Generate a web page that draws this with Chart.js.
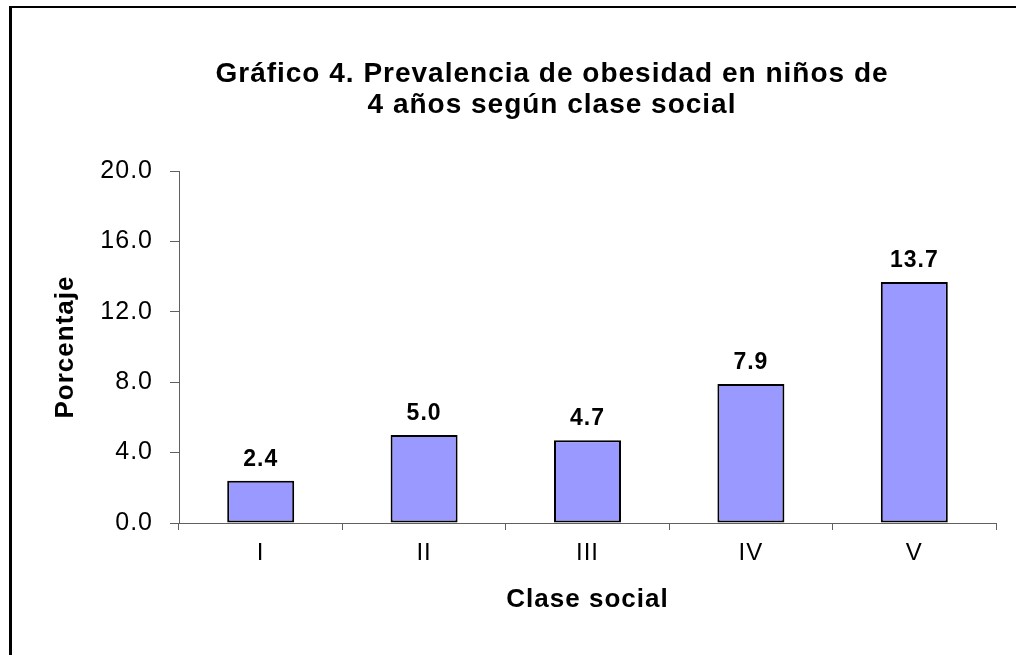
<!DOCTYPE html>
<html>
<head>
<meta charset="utf-8">
<script src="https://cdn.jsdelivr.net/npm/chart.js@4.4.0/dist/chart.umd.min.js"></script>
<style>
  html, body { margin: 0; padding: 0; background: #fff; }
  #wrap { position: relative; width: 1016px; height: 655px; overflow: hidden; }
  #frame { position: absolute; left: 9px; top: 6px; right: -10px; bottom: -10px;
           border-left: 3px solid #000; border-top: 2px solid #000; }
  canvas { position: absolute; left: 0; top: 0; }
</style>
</head>
<body>
<div id="wrap">
  <div id="frame"></div>
  <canvas id="chart" width="1016" height="655"></canvas>
</div>
<script>
// data
var categories = ['I', 'II', 'III', 'IV', 'V'];
var values = [2.4, 5.0, 4.7, 7.9, 13.7];
var yTicks = [0, 4, 8, 12, 16, 20];
var titleLines = ['Gráfico 4. Prevalencia de obesidad en niños de', '4 años según clase social'];

var FONT = '"Liberation Sans", Arial, sans-serif';
var AXIS_GRAY = '#606060';
var BAR_FILL = '#9999FF';

// the original text is set a little wider than Arial; spread the glyphs a bit
var spacing = {
  id: 'spacing',
  beforeDraw: function(chart) {
    chart.ctx.letterSpacing = '1px';
  }
};

// two-line title, centred a bit right of the canvas middle like the original
var titlePlugin = {
  id: 'titlePlugin',
  afterDraw: function(chart) {
    var ctx = chart.ctx;
    ctx.save();
    ctx.letterSpacing = '1px';
    ctx.font = 'bold 28px ' + FONT;
    ctx.fillStyle = '#000';
    ctx.textAlign = 'center';
    ctx.textBaseline = 'alphabetic';
    titleLines.forEach(function(t, i) {
      ctx.fillText(t, 552, 82 + i * 31);
    });
    ctx.restore();
  }
};

// value labels above the bars
var barLabels = {
  id: 'barLabels',
  afterDatasetsDraw: function(chart) {
    var ctx = chart.ctx;
    var meta = chart.getDatasetMeta(0);
    ctx.save();
    ctx.font = 'bold 23px ' + FONT;
    ctx.fillStyle = '#000';
    ctx.textAlign = 'center';
    ctx.textBaseline = 'alphabetic';
    meta.data.forEach(function(bar, i) {
      ctx.fillText(values[i].toFixed(1), bar.x, bar.y - 15);
    });
    ctx.restore();
  }
};

new Chart(document.getElementById('chart').getContext('2d'), {
  type: 'bar',
  data: {
    labels: categories,
    datasets: [{
      data: values,
      backgroundColor: BAR_FILL,
      borderColor: '#000',
      borderWidth: 2,
      borderSkipped: false,
      barPercentage: 0.41,
      categoryPercentage: 1
    }]
  },
  options: {
    responsive: false,
    animation: false,
    layout: { padding: { left: 50, right: 20, top: 171, bottom: 40 } },
    plugins: {
      legend: { display: false },
      tooltip: { enabled: false },
      title: { display: false }
    },
    scales: {
      x: {
        offset: true,
        grid: {
          offset: true,
          drawOnChartArea: false,
          drawTicks: true,
          tickLength: 7,
          color: AXIS_GRAY
        },
        border: { display: true, color: AXIS_GRAY, width: 1 },
        ticks: { color: '#000', padding: 9, font: { family: FONT, size: 24 } },
        title: {
          display: true,
          text: 'Clase social',
          color: '#000',
          padding: 0,
          font: { family: FONT, size: 26, weight: 'bold' }
        },
        afterFit: function(scale) { scale.height = 92; }
      },
      y: {
        min: 0,
        max: 20,
        afterBuildTicks: function(scale) {
          scale.ticks = yTicks.map(function(v) { return { value: v }; });
        },
        grid: {
          drawOnChartArea: false,
          drawTicks: true,
          tickLength: 9,
          color: AXIS_GRAY
        },
        border: { display: true, color: AXIS_GRAY, width: 1 },
        ticks: {
          color: '#000',
          padding: 17,
          font: { family: FONT, size: 25 },
          callback: function(v) { return Number(v).toFixed(1); }
        },
        title: {
          display: true,
          text: 'Porcentaje',
          color: '#000',
          padding: 0,
          font: { family: FONT, size: 26, weight: 'bold' }
        },
        afterFit: function(scale) { scale.width = 129; }
      }
    }
  },
  plugins: [spacing, barLabels, titlePlugin]
});
</script>
</body>
</html>
